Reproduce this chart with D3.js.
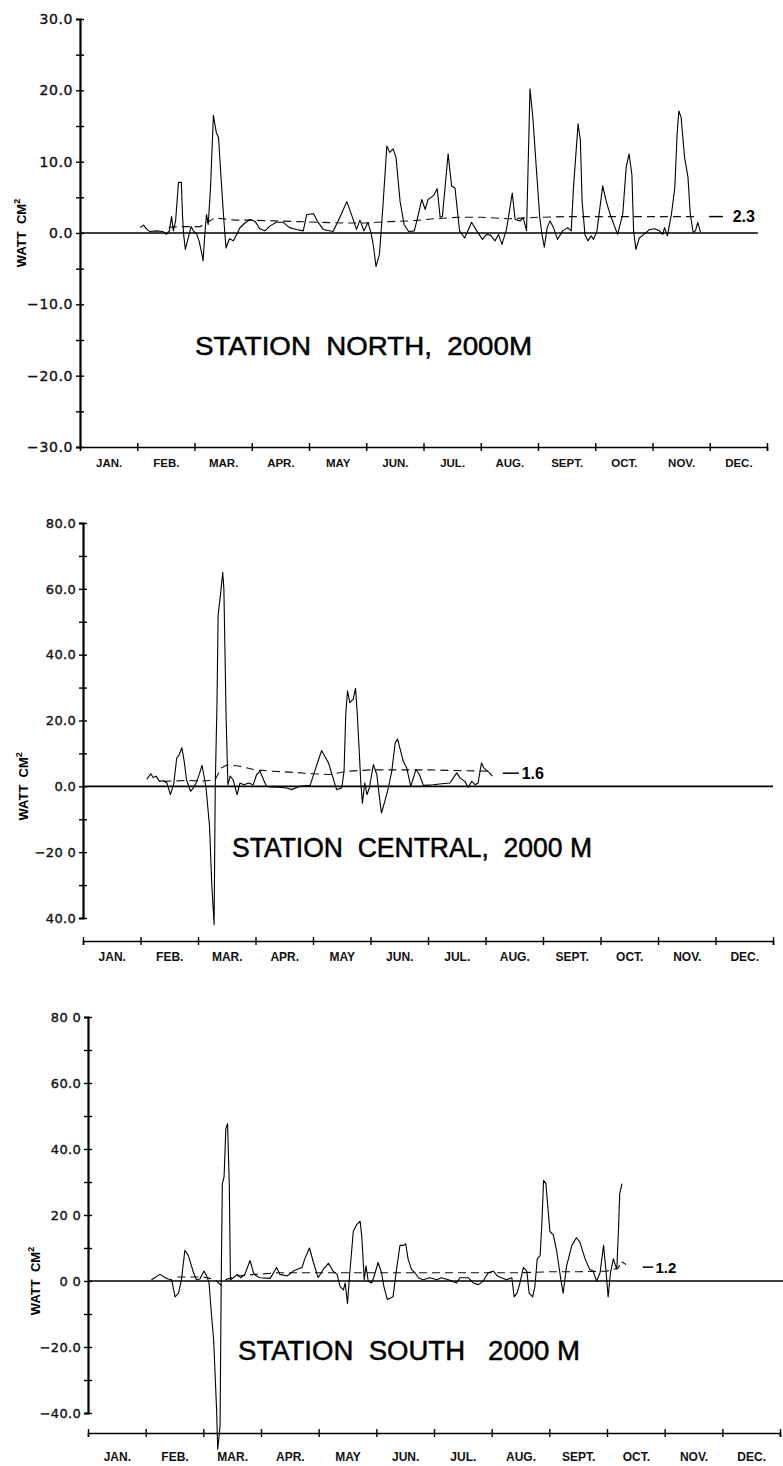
<!DOCTYPE html>
<html>
<head>
<meta charset="utf-8">
<script src="https://cdn.jsdelivr.net/npm/d3@7"></script>
<style>
  body { margin: 0; background: #fff; }
</style>
</head>
<body>
<svg id="chart"></svg>
<script>
const months = ['JAN.', 'FEB.', 'MAR.', 'APR.', 'MAY', 'JUN.', 'JUL.', 'AUG.', 'SEPT.', 'OCT.', 'NOV.', 'DEC.']

// every pair is [month, flux]; month 0 = 1 Jan, 12 = 31 Dec
const northFlux = [
    [1.05,0.75],[1.11,1.1],[1.17,0.5],[1.22,0.2],[1.34,0.3],[1.45,0.2],[1.51,-0.2],[1.56,0.3],[1.6,2.3],[1.63,0.3],
    [1.67,1.7],[1.72,7.1],[1.77,7.1],[1.79,2.6],[1.81,-0.2],[1.84,-2.3],[1.9,-0.4],[1.94,0.9],[1.98,0.3],[2.04,-0.2],
    [2.08,-1.1],[2.13,-3.0],[2.15,-3.9],[2.18,-0.2],[2.21,2.6],[2.24,1.2],[2.28,6.4],[2.33,16.5],[2.38,14.1],[2.42,13.4],
    [2.46,8.2],[2.51,2.1],[2.55,-2.1],[2.61,-0.8],[2.68,-1.1],[2.75,0.0],[2.79,0.7],[2.88,1.4],[2.97,1.9],[3.06,1.6],
    [3.14,0.6],[3.23,0.3],[3.32,1.0],[3.43,1.5],[3.55,1.5],[3.66,0.75],[3.78,0.5],[3.9,0.3],[3.96,2.6],[4.08,2.7],
    [4.15,1.6],[4.25,0.5],[4.42,0.2],[4.54,2.2],[4.66,4.4],[4.75,2.4],[4.83,0.5],[4.89,1.8],[4.96,0.3],[5.03,1.5],
    [5.09,-0.2],[5.13,-2.1],[5.17,-4.7],[5.23,-3.0],[5.29,3.6],[5.36,12.2],[5.41,11.3],[5.47,11.8],[5.52,10.6],[5.59,4.5],
    [5.66,1.2],[5.74,0.2],[5.84,0.3],[5.91,2.6],[5.97,4.7],[6.03,3.3],[6.08,4.7],[6.17,5.2],[6.24,6.2],[6.29,2.2],
    [6.33,2.3],[6.43,11.1],[6.49,6.6],[6.55,6.3],[6.63,0.3],[6.72,-0.7],[6.84,1.5],[6.93,0.3],[7.03,-0.9],[7.1,-0.2],
    [7.17,-0.3],[7.25,-1.1],[7.31,-0.2],[7.37,-1.6],[7.45,0.5],[7.55,5.6],[7.6,1.9],[7.69,1.7],[7.74,2.2],[7.8,0.3],
    [7.86,20.2],[7.91,16.2],[7.97,9.2],[8.03,2.2],[8.07,-0.2],[8.11,-2.0],[8.16,0.75],[8.21,1.7],[8.27,0.75],[8.34,-0.9],
    [8.43,0.3],[8.52,0.75],[8.58,0.3],[8.62,6.4],[8.7,15.3],[8.74,13.0],[8.77,4.5],[8.82,-0.2],[8.87,-1.1],[8.93,-0.4],
    [8.97,-0.9],[9.03,0.3],[9.13,6.6],[9.19,4.5],[9.26,2.6],[9.39,-0.2],[9.48,2.6],[9.54,9.2],[9.59,11.1],[9.64,8.2],
    [9.67,0.3],[9.71,-2.3],[9.77,-0.7],[9.85,-0.2],[9.95,0.5],[10.04,0.6],[10.12,0.3],[10.18,-0.2],[10.21,0.75],[10.26,-0.4],
    [10.33,2.6],[10.39,6.4],[10.43,13.9],[10.46,17.1],[10.5,16.2],[10.56,10.6],[10.62,7.8],[10.66,2.6],[10.71,0.1],[10.75,0.3],
    [10.79,1.5],[10.84,0.1]
]
const northMean = [
    [1.55,0.8],[1.8,0.9],[2.1,0.9],[2.25,1.6],[2.35,2.1],[2.5,2.0],[2.7,1.8],[3.0,1.8],[3.4,1.7],[3.8,1.6],[4.2,1.5],
    [4.6,1.4],[5.0,1.4],[5.4,1.6],[5.8,1.7],[6.2,2.0],[6.6,2.2],[7.0,2.2],[7.5,2.0],[8.0,2.2],[8.5,2.3],[9.0,2.3],
    [9.5,2.3],[10.0,2.3],[10.5,2.3],[10.75,2.3]
]

const centralFlux = [
    [1.11,2.2],[1.18,3.8],[1.22,2.7],[1.27,3.1],[1.33,1.5],[1.4,1.7],[1.46,1.0],[1.52,-2.5],[1.58,1.0],[1.63,8.6],
    [1.67,9.5],[1.72,11.7],[1.76,7.6],[1.8,2.0],[1.87,-1.5],[1.92,-0.5],[1.98,1.5],[2.03,4.1],[2.07,6.4],[2.1,3.6],
    [2.14,-0.5],[2.2,-12],[2.24,-30],[2.28,-42],[2.3,0],[2.33,25],[2.35,52],[2.39,58],[2.43,65],[2.45,60],
    [2.49,20],[2.52,0.5],[2.56,3.1],[2.61,2.0],[2.68,-2.5],[2.73,1.0],[2.8,0.5],[2.88,1.0],[2.96,0.5],[3.02,3.6],
    [3.08,4.6],[3.14,2.0],[3.19,0.0],[3.25,-0.2],[3.4,-0.3],[3.54,-0.5],[3.63,-1.0],[3.77,0.0],[3.95,0.3],[4.03,4.6],
    [4.15,10.9],[4.27,7.1],[4.33,3.6],[4.41,-1.0],[4.5,-0.5],[4.54,4.6],[4.57,21.9],[4.6,29],[4.64,25.4],[4.7,26.5],
    [4.74,29.8],[4.77,22],[4.81,8.6],[4.83,1.5],[4.86,-5.1],[4.9,1.0],[4.94,-2.5],[4.98,-0.5],[5.05,6.6],[5.11,3.6],
    [5.15,-2.5],[5.19,-8.1],[5.25,-4.5],[5.31,-0.5],[5.37,4.6],[5.43,13.2],[5.47,14.4],[5.51,11.7],[5.57,7.6],[5.63,5.6],
    [5.7,0.0],[5.79,5.1],[5.85,3.6],[5.92,0.3],[6.09,0.5],[6.24,0.8],[6.38,1.0],[6.5,4.1],[6.56,2.5],[6.64,1.5],
    [6.7,-0.3],[6.76,1.5],[6.82,0.5],[6.87,1.0],[6.93,7.1],[6.97,5.6],[7.07,4.1],[7.12,3.1]
]
const centralMean = [
    [1.4,1.5],[1.8,1.8],[2.1,1.6],[2.3,2.0],[2.4,5.5],[2.5,6.5],[2.7,6.2],[3.0,5.0],[3.3,4.6],[3.7,4.2],[4.0,3.8],
    [4.3,3.6],[4.6,4.6],[5.0,5.0],[5.5,5.0],[6.0,5.0],[6.5,4.8],[7.1,4.6]
]

const southFlux = [
    [1.1,0.4],[1.25,2.0],[1.34,1.0],[1.39,0.6],[1.45,0.4],[1.51,-4.8],[1.57,-3.7],[1.62,0.4],[1.68,9.3],[1.74,7.7],
    [1.83,2.5],[1.88,0.4],[1.94,0.6],[2.01,3.0],[2.06,1.5],[2.1,-0.6],[2.13,-7.9],[2.18,-18.2],[2.23,-39],[2.25,-51],
    [2.29,-44],[2.31,0],[2.33,29.5],[2.36,31.6],[2.39,46.1],[2.42,47.7],[2.45,29.5],[2.47,0.4],[2.52,1.0],[2.59,2.0],
    [2.65,1.0],[2.72,2.0],[2.81,6.2],[2.87,2.5],[2.92,1.5],[2.98,1.0],[3.16,0.8],[3.27,4.1],[3.33,2.0],[3.45,1.5],
    [3.56,3.0],[3.71,4.1],[3.76,6.7],[3.84,10.0],[3.91,5.6],[3.99,1.0],[4.08,3.5],[4.17,5.4],[4.25,3.0],[4.32,2.0],
    [4.37,-1.6],[4.43,-2.7],[4.46,-0.6],[4.5,-6.8],[4.54,2.5],[4.6,15.0],[4.66,17.1],[4.72,18.1],[4.75,12.9],[4.79,0.4],
    [4.82,4.6],[4.86,-0.1],[4.92,-0.6],[4.98,2.5],[5.03,5.6],[5.09,2.5],[5.13,-1.6],[5.19,-5.6],[5.29,-4.8],[5.35,3.5],
    [5.41,10.8],[5.47,10.8],[5.51,11.3],[5.55,6.7],[5.61,3.5],[5.67,2.5],[5.73,1.0],[5.81,0.4],[5.93,1.0],[6.05,0.4],
    [6.13,1.0],[6.25,0.4],[6.39,-0.6],[6.45,1.0],[6.59,1.0],[6.68,-0.6],[6.77,-1.1],[6.85,-0.1],[6.94,2.5],[7.03,3.0],
    [7.1,1.5],[7.17,1.0],[7.26,0.4],[7.35,1.0],[7.39,-4.8],[7.44,-3.7],[7.49,-0.6],[7.55,4.1],[7.61,3.0],[7.65,-3.7],
    [7.71,-4.8],[7.75,-1.6],[7.79,6.7],[7.84,7.7],[7.87,17.1],[7.9,30.5],[7.94,29.5],[8.01,15.0],[8.07,14.0],[8.13,8.8],
    [8.2,0.4],[8.24,-3.7],[8.3,4.6],[8.39,10.8],[8.47,13.1],[8.53,11.8],[8.62,6.7],[8.7,3.5],[8.76,3.0],[8.82,-0.1],
    [8.88,2.5],[8.94,10.8],[8.98,3.5],[9.02,-4.8],[9.06,2.5],[9.11,6.7],[9.17,3.5],[9.2,16],[9.22,26.4],[9.26,29.5]
]
const southMean = [
    [1.55,1.2],[2.0,1.2],[2.2,0.5],[2.3,-1.2],[2.4,0.5],[2.6,1.5],[2.9,2.0],[3.3,2.5],[4.0,2.5],[5.0,2.5],[6.0,2.5],
    [7.0,2.5],[7.5,2.5],[8.0,2.8],[8.5,2.8],[9.0,3.0],[9.2,4.0],[9.24,6.0],[9.33,5.0]
]

const northTicks = [30, 20, 10, 0, -10, -20, -30]
const northTickLabels = ['30.0', '20.0', '10.0', '0.0', '\u221210.0', '\u221220.0', '\u221230.0']
const northMinorTicks = [25, 15, 5, -5, -15, -25]
const centralTicks = [80, 60, 40, 20, 0, -20, -40]
const centralTickLabels = ['80.0', '60.0', '40.0', '20.0', '0.0', '\u221220 0', '40.0']
const southTicks = [80, 60, 40, 20, 0, -20, -40]
const southTickLabels = ['80 0', '60.0', '40.0', '20 0', '0 0', '\u221220.0', '\u221240.0']
const wideMinorTicks = [70, 50, 30, 10, -10, -30]

const meanLabels = ['2.3', '1.6', '1.2']
const titles = ['STATION  NORTH,  2000M', 'STATION  CENTRAL,  2000 M', 'STATION  SOUTH   2000 M']

let width = 783, height = 1466
let $svg = d3.select('#chart').attr('width', width).attr('height', height)

// layout of the three stacked panels (pixels)
let panels = [
    {flux: northFlux, mean: northMean, ticks: northTicks, tickLabels: northTickLabels, minor: northMinorTicks,
     domain: [-30, 30], left: 80, right: 767, top: 19, bottom: 447, axisY: 447, monthY: 467, startTick: false,
     zeroEnd: 11.84, tickFont: 14, tickSpacing: 0.6, monthFont: 11.5, unitX: 21,
     title: {x: 195, y: 355, w: 337, size: 26},
     meanTag: {from: 10.99, to: 11.23, at: 11.4, v: 2.3, size: 16}},
    {flux: centralFlux, mean: centralMean, ticks: centralTicks, tickLabels: centralTickLabels, minor: wideMinorTicks,
     domain: [-40, 80], left: 83, right: 773, top: 523, bottom: 918, axisY: 941, monthY: 961, startTick: true,
     zeroEnd: 12, tickFont: 13, tickSpacing: 0.3, monthFont: 12, unitX: 23,
     title: {x: 232, y: 857, w: 360, size: 28},
     meanTag: {from: 7.3, to: 7.58, at: 7.63, v: 4.0, size: 16}},
    {flux: southFlux, mean: southMean, ticks: southTicks, tickLabels: southTickLabels, minor: wideMinorTicks,
     domain: [-40, 80], left: 88, right: 780, top: 1017, bottom: 1413, axisY: 1433, monthY: 1461, startTick: true,
     zeroEnd: 12.1, tickFont: 13, tickSpacing: 0.3, monthFont: 12, unitX: 35,
     title: {x: 238, y: 1360, w: 342, size: 27},
     meanTag: {from: 9.62, to: 9.8, at: 9.84, v: 4.2, size: 15}}
]

panels.forEach((p, pi) => {
    let x = d3.scaleLinear().domain([0, 12]).range([p.left, p.right])
    let y = d3.scaleLinear().domain(p.domain).range([p.bottom, p.top])
    let $g = $svg.append('g').attr('class', 'panel')

    // y axis, labelled ticks
    let $yAxis = $g.append('g')
        .attr('transform', 'translate(' + p.left + ',0)')
        .call(d3.axisLeft(y).tickValues(p.ticks)
            .tickFormat((d, i) => p.tickLabels[i])
            .tickSizeOuter(0).tickSize(4).tickPadding(3))
    $yAxis.select('.domain').attr('stroke-width', 2.2)
    $yAxis.selectAll('.tick line').attr('x1', -4).attr('x2', 4).attr('stroke-width', 1.4)
    $yAxis.selectAll('.tick text')
        .attr('font-family', 'DejaVu Sans, sans-serif')
        .attr('font-size', p.tickFont)
        .attr('letter-spacing', p.tickSpacing)
        .attr('fill', '#111')
        .attr('stroke', '#111')
        .attr('stroke-width', 0.35)

    // y axis, minor crosses
    let $yMinor = $g.append('g')
        .attr('transform', 'translate(' + p.left + ',0)')
        .call(d3.axisLeft(y).tickValues(p.minor).tickFormat('').tickSizeOuter(0).tickSize(4))
    $yMinor.select('.domain').remove()
    $yMinor.selectAll('.tick line').attr('x1', -4).attr('x2', 4).attr('stroke-width', 1.4)

    // month axis
    let monthTicks = d3.range(p.startTick ? 0 : 1, 13)
    let $xAxis = $g.append('g')
        .attr('transform', 'translate(0,' + p.axisY + ')')
        .call(d3.axisBottom(x).tickValues(monthTicks).tickFormat('').tickSizeOuter(0).tickSize(4))
    $xAxis.select('.domain').attr('stroke-width', 1.6)
    $xAxis.selectAll('.tick line').attr('y1', -4).attr('y2', 4).attr('stroke-width', 1.4)

    let $monthLabels = $g.append('g')
        .attr('transform', 'translate(0,' + p.monthY + ')')
        .call(d3.axisBottom(x).tickValues(d3.range(12).map(i => i + 0.5))
            .tickFormat((d, i) => months[i]).tickSize(0).tickPadding(0))
    $monthLabels.select('.domain').remove()
    $monthLabels.selectAll('.tick text')
        .attr('dy', 0)
        .attr('font-family', 'Liberation Sans, Arial, sans-serif')
        .attr('font-weight', 'bold')
        .attr('font-size', p.monthFont)
        .attr('fill', '#111')

    // zero line
    $g.append('line')
        .attr('x1', x(0)).attr('x2', x(p.zeroEnd))
        .attr('y1', y(0)).attr('y2', y(0))
        .attr('stroke', '#000')
        .attr('stroke-width', 1.6)

    let lineFunction = d3.line()
        .x(d => x(d[0]))
        .y(d => y(d[1]))

    $g.append('path')
        .attr('d', lineFunction(p.mean))
        .attr('fill', 'none')
        .attr('stroke', '#111')
        .attr('stroke-width', 1.1)
        .attr('stroke-dasharray', '8,5')

    $g.append('path')
        .attr('d', lineFunction(p.flux))
        .attr('fill', 'none')
        .attr('stroke', '#000')
        .attr('stroke-width', 1.1)
        .attr('stroke-linejoin', 'round')

    // mean value tag
    let t = p.meanTag
    $g.append('line')
        .attr('x1', x(t.from)).attr('x2', x(t.to))
        .attr('y1', y(t.v)).attr('y2', y(t.v))
        .attr('stroke', '#000')
        .attr('stroke-width', 1.5)
    $g.append('text')
        .attr('x', x(t.at))
        .attr('y', y(t.v))
        .attr('dy', '0.36em')
        .attr('font-family', 'Liberation Sans, Arial, sans-serif')
        .attr('font-weight', 'bold')
        .attr('font-size', t.size)
        .text(meanLabels[pi])

    // unit label, centred on the zero line
    let $unit = $g.append('text')
        .attr('transform', 'translate(' + p.unitX + ',' + y(0) + ') rotate(-90)')
        .attr('text-anchor', 'middle')
        .attr('dy', '0.35em')
        .attr('font-family', 'Liberation Sans, Arial, sans-serif')
        .attr('font-weight', 'bold')
        .attr('font-size', 13)
        .style('white-space', 'pre')
    $unit.append('tspan').text('WATT  CM')
    $unit.append('tspan').attr('dy', -6).attr('font-size', 9).text('2')

    // station title
    $g.append('text')
        .attr('x', p.title.x)
        .attr('y', p.title.y)
        .attr('textLength', p.title.w)
        .attr('lengthAdjust', 'spacingAndGlyphs')
        .attr('font-family', 'Liberation Sans, Arial, sans-serif')
        .attr('font-size', p.title.size)
        .attr('stroke', '#000')
        .attr('stroke-width', 0.5)
        .style('white-space', 'pre')
        .text(titles[pi])
})
</script>
</body>
</html>
